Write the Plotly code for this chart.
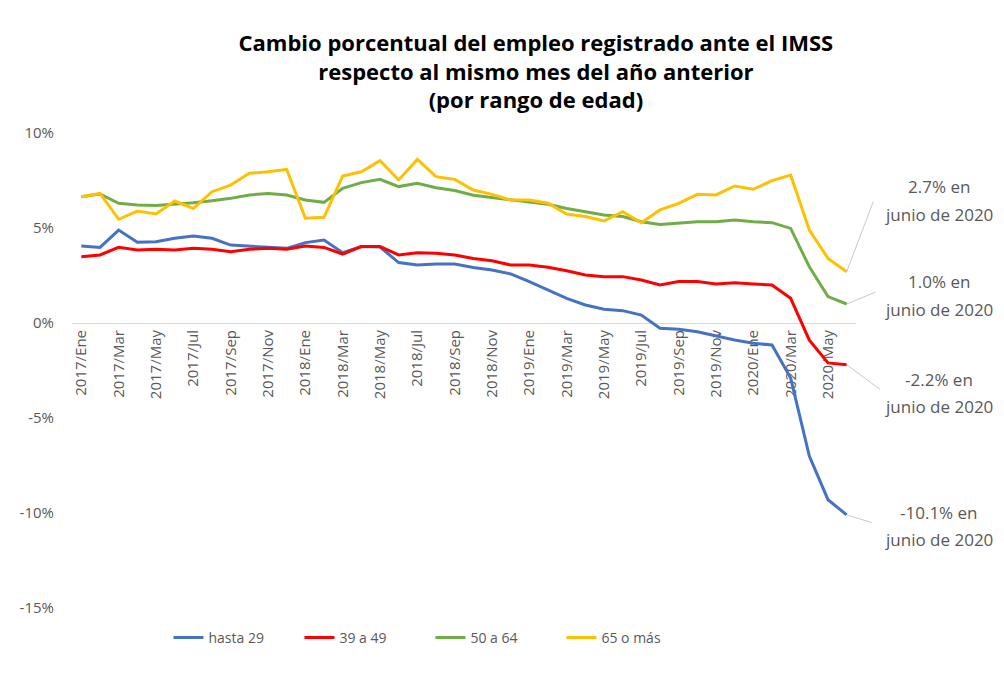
import plotly.graph_objects as go

meses = ["Ene", "Feb", "Mar", "Abr", "May", "Jun", "Jul", "Ago", "Sep", "Oct", "Nov", "Dic"]
categorias = [f"{a}/{m}" for a in (2017, 2018, 2019) for m in meses] + [f"2020/{m}" for m in meses[:6]]
tick_labels = categorias[::2]
y_ticks = [-15, -10, -5, 0, 5, 10]
y_tick_text = ["-15%", "-10%", "-5%", "0%", "5%", "10%"]

hasta_29 = [4.05, 3.98, 4.89, 4.25, 4.28, 4.46, 4.58, 4.46, 4.10, 4.05, 3.98, 3.93, 4.23, 4.37,
            3.70, 4.02, 4.00, 3.18, 3.05, 3.10, 3.10, 2.92, 2.79, 2.58, 2.18, 1.74, 1.30, 0.95,
            0.72, 0.65, 0.42, -0.28, -0.33, -0.46, -0.68, -0.89, -1.07, -1.16, -2.9, -7.0, -9.3, -10.1]
de_39_a_49 = [3.49, 3.58, 3.98, 3.84, 3.88, 3.84, 3.93, 3.88, 3.75, 3.88, 3.93, 3.88, 4.05, 3.98,
              3.63, 4.02, 4.02, 3.58, 3.70, 3.67, 3.58, 3.40, 3.28, 3.05, 3.05, 2.93, 2.75, 2.53,
              2.44, 2.44, 2.26, 2.00, 2.18, 2.18, 2.05, 2.12, 2.05, 2.00, 1.30, -0.9, -2.1, -2.2]
de_50_a_64 = [6.65, 6.79, 6.30, 6.21, 6.18, 6.25, 6.33, 6.44, 6.56, 6.74, 6.82, 6.74, 6.47, 6.35,
              7.09, 7.39, 7.56, 7.18, 7.35, 7.12, 6.97, 6.72, 6.61, 6.47, 6.39, 6.25, 6.03, 5.86,
              5.68, 5.60, 5.33, 5.19, 5.25, 5.33, 5.33, 5.42, 5.33, 5.28, 4.98, 2.96, 1.39, 1.0]
de_65_o_mas = [6.65, 6.82, 5.46, 5.89, 5.74, 6.42, 6.03, 6.91, 7.26, 7.88, 7.96, 8.09, 5.51, 5.56,
               7.74, 7.96, 8.54, 7.53, 8.61, 7.70, 7.56, 7.00, 6.77, 6.47, 6.47, 6.30, 5.74, 5.60,
               5.37, 5.86, 5.28, 5.95, 6.30, 6.77, 6.74, 7.21, 7.04, 7.49, 7.79, 4.89, 3.40, 2.7]

series = [
    ("hasta 29", hasta_29, "#4472C4"),
    ("39 a 49", de_39_a_49, "#FF0000"),
    ("50 a 64", de_50_a_64, "#70AD47"),
    ("65 o más", de_65_o_mas, "#FFC000"),
]

# (series, line 1, line 2)
etiquetas_texto = [
    (de_65_o_mas, "2.7% en", "junio de 2020"),
    (de_50_a_64, "1.0% en", "junio de 2020"),
    (de_39_a_49, "-2.2% en", "junio de 2020"),
    (hasta_29, "-10.1% en", "junio de 2020"),
]
# pixel styling for leader lines / label placement (offsets from end point)
leader_offsets = [(27, -71), (29, -12), (34, 25), (26, 8)]
label_line_offsets = [(-85, -57), (-23, 5), (15, 42), (-2, 25)]
LABEL_DX = 92

FONT = "Open Sans"
GREY = "#595959"

fig = go.Figure()
for nombre, valores, color in series:
    fig.add_trace(go.Scatter(x=categorias, y=valores, mode="lines", name=nombre,
                             line=dict(color=color, width=3)))

for (valores, l1, l2), (ax, ay), (d1, d2) in zip(etiquetas_texto, leader_offsets, label_line_offsets):
    xe, ye = categorias[-1], valores[-1]
    fig.add_annotation(x=xe, y=ye, text=" ", showarrow=True, arrowhead=0, arrowwidth=1,
                       arrowcolor="#C8C8C8", ax=ax, ay=ay, font=dict(size=1),
                       borderpad=0)
    for txt, d in ((l1, d1), (l2, d2)):
        fig.add_annotation(x=xe, y=ye, text=txt, showarrow=False, xshift=LABEL_DX, yshift=-d,
                           xanchor="center", yanchor="middle",
                           font=dict(family=FONT, size=17, color=GREY))

fig.update_layout(
    width=996, height=671,
    paper_bgcolor="white", plot_bgcolor="white",
    margin=dict(l=60, r=148, t=125, b=71),
    font=dict(family=FONT, color=GREY),
    title=dict(text="Cambio porcentual del empleo registrado ante el IMSS<br>respecto al mismo mes del año anterior<br>(por rango de edad)",
               x=0.530, xanchor="center", y=0.936, yanchor="top",
               font=dict(family=FONT, size=22, color="#000000", weight="bold")),
    showlegend=True,
    legend=dict(orientation="h", x=0.123, xanchor="left", y=-0.063, yanchor="middle",
                entrywidth=86, entrywidthmode="pixels",
                font=dict(family=FONT, size=14, color=GREY)),
)
fig.update_xaxes(type="category", range=[-0.5, len(categorias) - 0.5],
                 tickmode="array", tickvals=tick_labels, ticktext=tick_labels,
                 tickangle=-90, showgrid=False, showline=True, linecolor="#D9D9D9",
                 linewidth=1, ticks="", anchor="free", position=0.6, layer="below traces",
                 tickfont=dict(family=FONT, size=15, color=GREY))
fig.update_yaxes(range=[-15, 10], tickmode="array", tickvals=y_ticks, ticktext=y_tick_text,
                 showgrid=False, zeroline=False, showline=False, ticklabelstandoff=17,
                 tickfont=dict(family=FONT, size=15, color=GREY))

fig.write_html("out.html")
